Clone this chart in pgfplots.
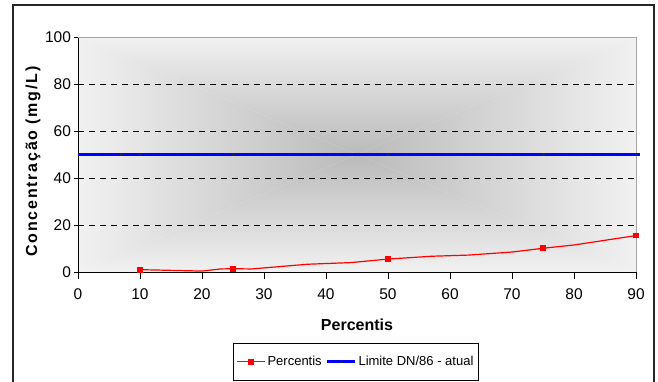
\documentclass[border=0pt]{standalone}
\usepackage{fontspec}
\setmainfont{Liberation Sans}
\newfontfamily\spaced[LetterSpace=11]{Liberation Sans}
\usepackage{pgfplots}
\pgfplotsset{compat=1.18}
\definecolor{edgegray}{gray}{0.945}
\definecolor{centergray}{gray}{0.73}
\definecolor{markblue}{rgb}{0.1,0.1,0.45}
\begin{document}
\begin{tikzpicture}
\useasboundingbox (-78pt,-109pt) rectangle (580pt,272pt);
\draw[line width=1.6pt, black!85] (-65pt,-115pt) -- (-65pt,267pt) -- (576pt,267pt) -- (576pt,-115pt);
% plot area background (rectangular gradient from centre)
\shade[top color=edgegray, bottom color=centergray] (0pt,235pt) -- (558pt,235pt) -- (279pt,117.5pt) -- cycle;
\shade[top color=centergray, bottom color=edgegray] (0pt,0pt) -- (558pt,0pt) -- (279pt,117.5pt) -- cycle;
\shade[left color=edgegray, right color=centergray] (0pt,0pt) -- (0pt,235pt) -- (279pt,117.5pt) -- cycle;
\shade[left color=centergray, right color=edgegray] (558pt,0pt) -- (558pt,235pt) -- (279pt,117.5pt) -- cycle;
\begin{axis}[
  at={(0pt,0pt)}, anchor=south west,
  scale only axis, width=558pt, height=235pt,
  xmin=0, xmax=90, ymin=0, ymax=100,
  clip=false,
  axis x line*=bottom, axis y line*=left,
  axis line style={black, line width=0.8pt, -},
  xtick={0,10,...,90},
  ytick={0,100},
  extra y ticks={20,40,60,80},
  extra y tick style={grid=major},
  major grid style={black, dashed, line width=0.6pt, dash pattern=on 6pt off 5pt},
  tick align=center,
  major tick length=7pt,
  tick style={black, line width=0.8pt},
  xtick style={yshift=-3pt},
  /pgf/number format/assume math mode=true,
  ticklabel style={font=\fontsize{15.5}{17}\selectfont},
  yticklabel style={xshift=0pt},
  xticklabel style={yshift=-10pt},
  xlabel={Percentis},
  ylabel={{\spaced Concentração (mg/L)}},
  xlabel style={font=\bfseries\fontsize{16}{18}\selectfont, at={(axis description cs:0.5,-0.2255)}, anchor=center},
  ylabel style={font=\bfseries\fontsize{16}{18}\selectfont, at={(axis description cs:-0.0806,0.47)}, anchor=center},
  legend columns=2,
  legend style={at={(axis description cs:0.498,-0.302)}, anchor=north, draw=black, line width=0.6pt,
    font=\fontsize{13}{15}\selectfont, inner ysep=11pt, inner xsep=3pt,
    /tikz/every even column/.append style={column sep=2pt}},
  legend cell align=left,
  legend image code/.code={\draw[#1, mark indices={2}] plot coordinates {(0pt,0pt)(14pt,0pt)(28pt,0pt)};},
]
\addplot[red, line width=1.2pt, mark=square*, mark size=2.3pt, mark options={solid, fill=red},
  mark indices={1,4,8,12,14}] coordinates {
  (10,1.0)(20,0.4)(23,1.3)(25,1.4)(28,1.3)(37,3.3)(44,4.0)(50,5.5)(57,6.7)(63,7.2)(70,8.5)(75,10.1)(80,11.5)(90,15.5)};
\addlegendentry{Percentis}
\addplot[blue, line width=2.8pt, mark=square*, mark size=0.9pt, mark options={fill=markblue, draw=markblue, line width=0.3pt},
  mark indices={2,3,4,5,6,7}] coordinates {
  (0,50)(7,50)(10,50)(25,50)(50,50)(75,50)(90,50)(90.6,50)};
\addlegendentry{Limite DN/86 - atual}
\draw[gray!70, line width=0.9pt] (rel axis cs:0,1) -- (rel axis cs:1,1) -- (rel axis cs:1,0);
\end{axis}
\end{tikzpicture}
\end{document}
